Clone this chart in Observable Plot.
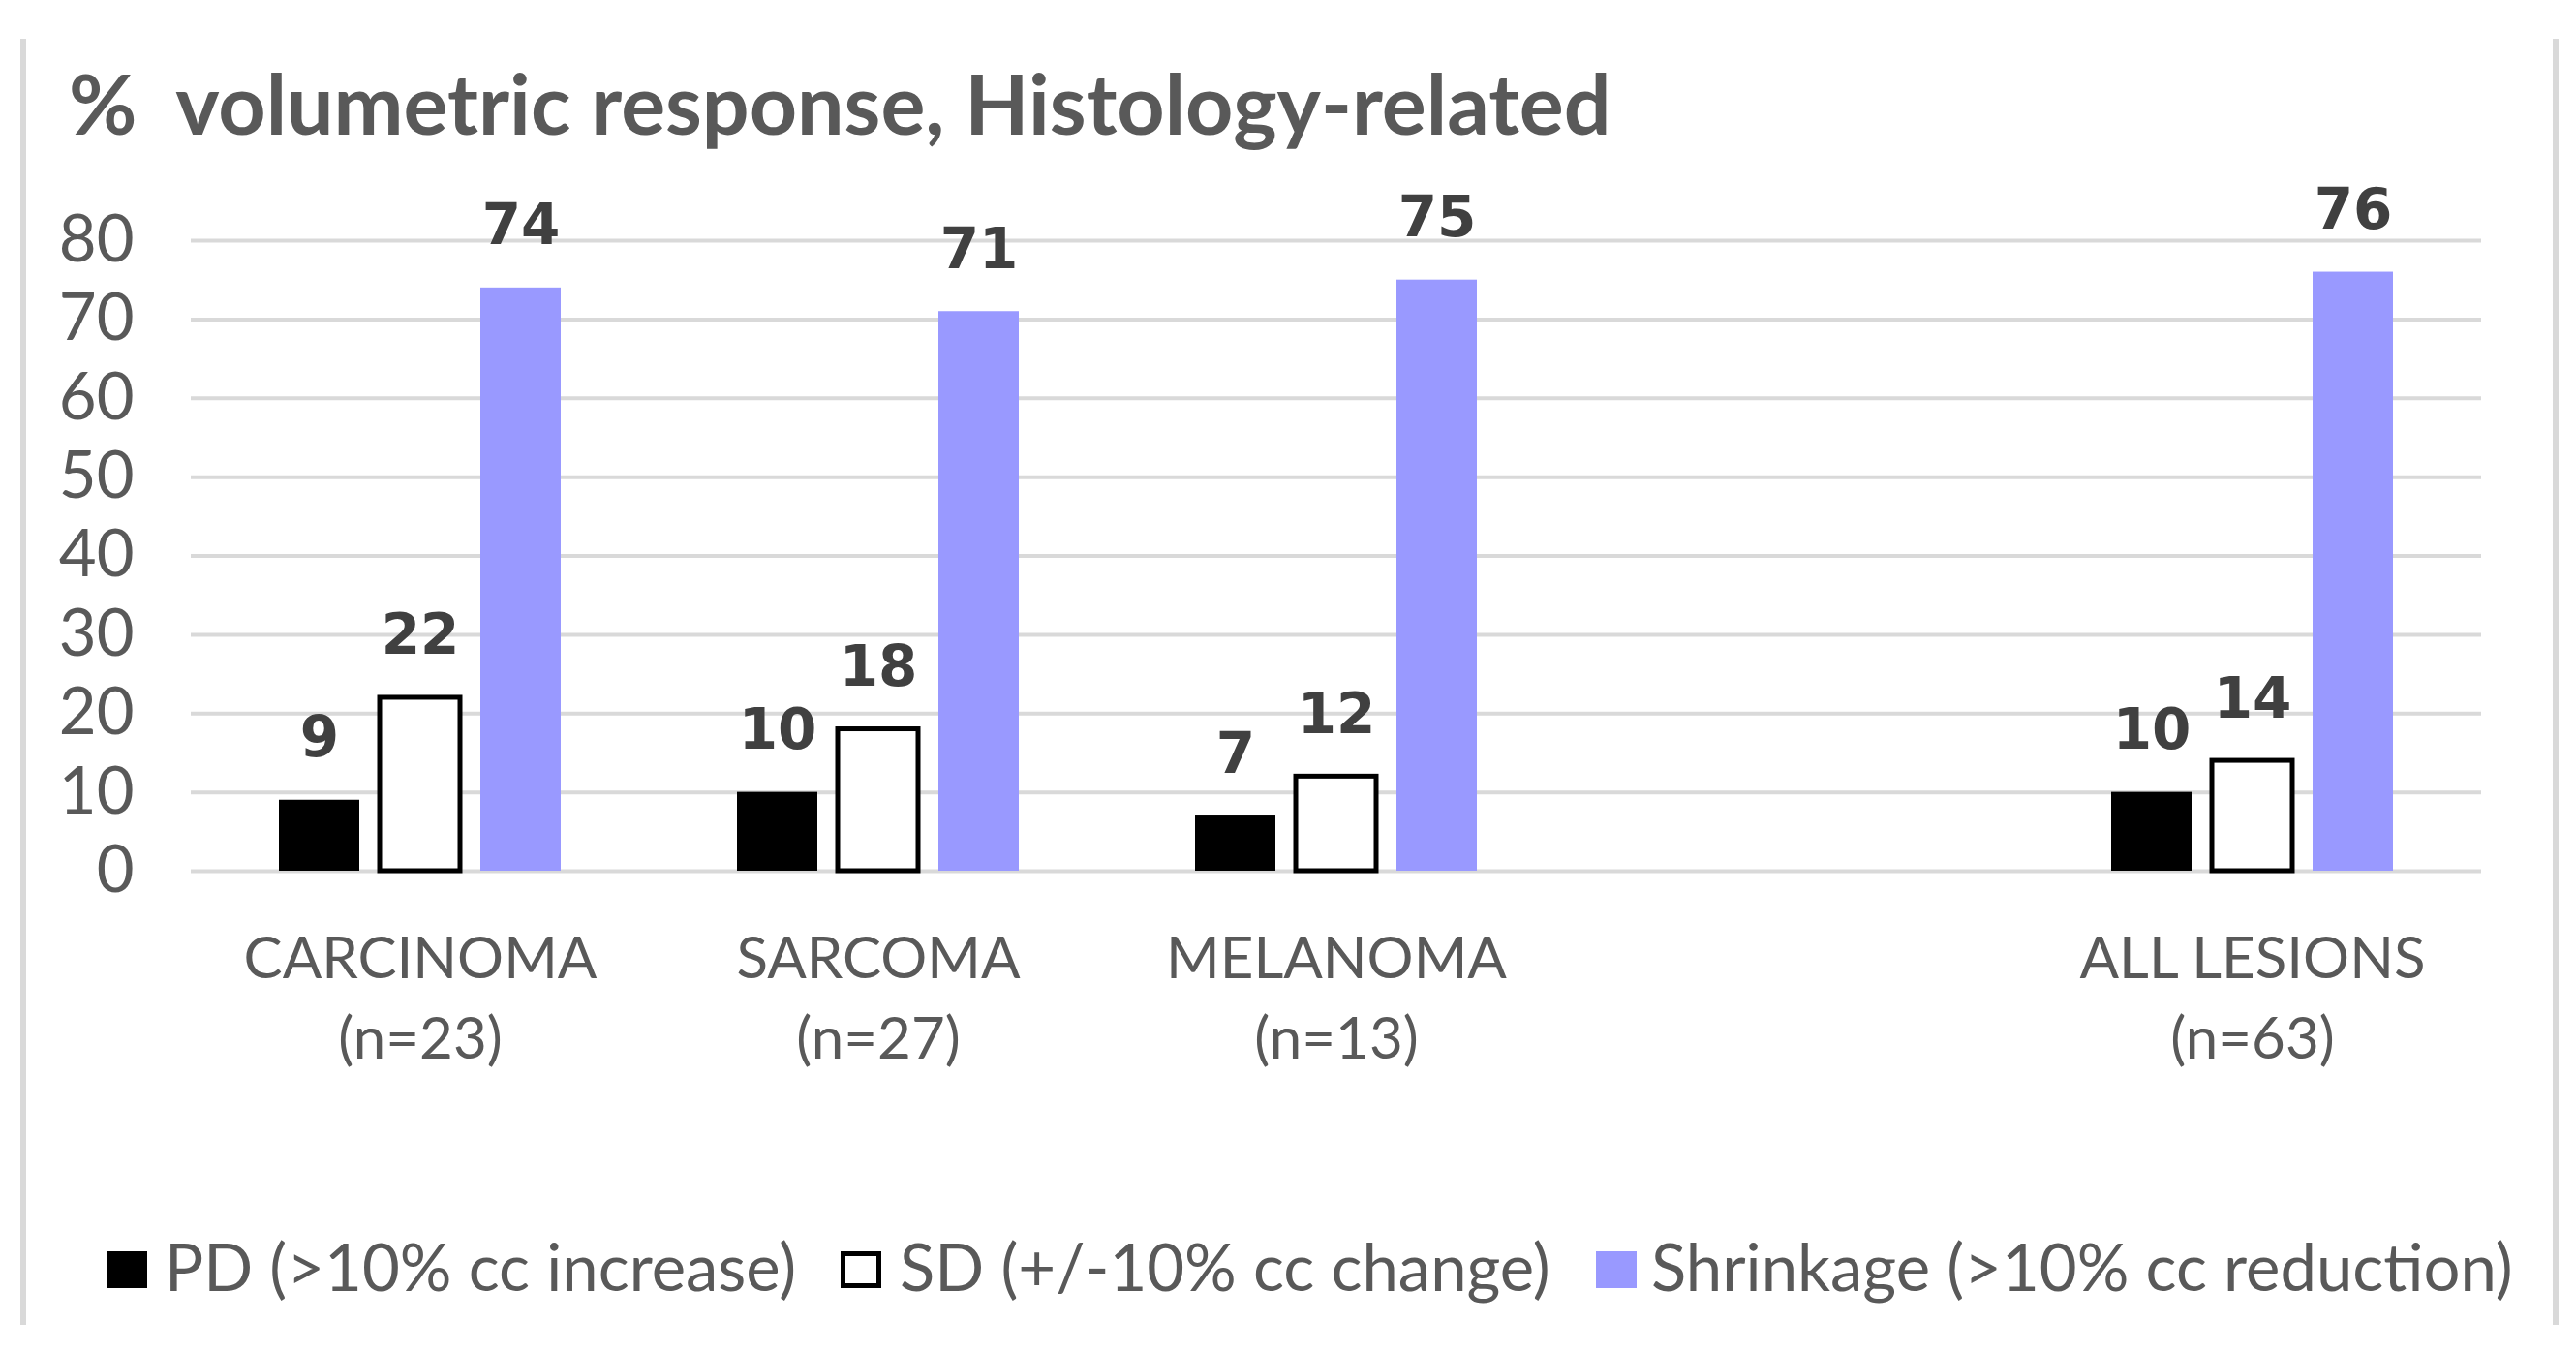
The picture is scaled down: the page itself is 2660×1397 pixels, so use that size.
<!DOCTYPE html>
<html>
<head>
<meta charset="utf-8">
<script src="https://cdn.jsdelivr.net/npm/d3@7"></script>
<script src="https://cdn.jsdelivr.net/npm/@observablehq/plot@0.6"></script>
<style>
  html, body { margin: 0; padding: 0; background: #fff; }
  #wrap { position: relative; width: 2660px; height: 1397px; overflow: hidden; background: #fff; font-family: Lato, "Open Sans", sans-serif; }
  .border { position: absolute; top: 40px; height: 1328px; width: 6px; background: #d9d9d9; }
  #title { position: absolute; left: 71px; top: 63px; font-size: 86px; line-height: 86px; font-weight: bold; color: #595959; white-space: nowrap; }
  #chart { position: absolute; left: 0; top: 160px; }
  .sw { position: absolute; top: 1292px; width: 42px; height: 38px; box-sizing: border-box; }
  .lt { position: absolute; top: 1274px; font-size: 67px; line-height: 67px; color: #595959; white-space: nowrap; }
</style>
</head>
<body>
<div id="wrap">
  <div class="border" style="left:21px"></div>
  <div class="border" style="left:2636px"></div>
  <div id="title">%&nbsp; volumetric response, Histology-related</div>
  <div id="chart"></div>
  <div id="legend"></div>
</div>
<script>
// ---- data ----
const groups = ["CARCINOMA", "SARCOMA", "MELANOMA", "ALL LESIONS"];
const groupN = ["(n=23)", "(n=27)", "(n=13)", "(n=63)"];
const slots = ["CARCINOMA", "SARCOMA", "MELANOMA", "", "ALL LESIONS"]; // "" = empty gap slot
const seriesNames = ["PD (>10% cc increase)", "SD (+/-10% cc change)", "Shrinkage (>10% cc reduction)"];
const pdValues = [9, 10, 7, 10];
const sdValues = [22, 18, 12, 14];
const shrinkValues = [74, 71, 75, 76];
const yTicks = [0, 10, 20, 30, 40, 50, 60, 70, 80];

// ---- styles ----
const seriesFill = ["#000000", "#ffffff", "#9999ff"];
const seriesStroke = [null, "#000000", null];

const valuesBySeries = [pdValues, sdValues, shrinkValues];
const rows = [];
groups.forEach((g, i) => seriesNames.forEach((s, j) => rows.push({group: g, series: s, value: valuesBySeries[j][i]})));
const gridRows = d3.cross(slots, yTicks).map(([slot, v]) => ({group: slot, v}));
const nByGroup = new Map(groups.map((g, i) => [g, groupN[i]]));

const plot = Plot.plot({
  width: 2660,
  height: 990,
  marginLeft: 195,
  marginRight: 96,
  marginTop: 88,
  marginBottom: 251,
  style: {fontFamily: "Lato, 'Open Sans', sans-serif", fontSize: "67px", color: "#595959", background: "transparent", overflow: "visible"},
  fx: {domain: slots, paddingInner: 0, paddingOuter: 0, axis: null},
  x: {domain: seriesNames, paddingInner: 0.2, paddingOuter: 0.87, axis: null},
  y: {domain: [0, 80], axis: null},
  color: {domain: seriesNames, range: seriesFill},
  marks: [
    Plot.ruleY(gridRows, {fx: "group", y: "v", stroke: "#d9d9d9", strokeWidth: 4}),
    Plot.axisY({ticks: yTicks, tickSize: 0, tickPadding: 59, label: null, fill: "#595959", fontSize: 67}),
    Plot.axisFx({anchor: "bottom", tickSize: 0, tickPadding: 52, label: null, lineHeight: 1.38, fill: "#595959", fontSize: 60, letterSpacing: "-1px",
      tickFormat: d => d ? `${d}\n${nByGroup.get(d)}` : ""}),
    Plot.barY(rows, {fx: "group", x: "series", y: "value", fill: "series"}),
    Plot.barY(rows.filter(d => seriesStroke[seriesNames.indexOf(d.series)]), {fx: "group", x: "series", y: "value", fill: "none", stroke: "#000", strokeWidth: 5}),
    Plot.text(rows, {fx: "group", x: "series", y: "value", text: d => String(d.value), lineAnchor: "bottom", dy: -45,
      fontFamily: "DejaVu Sans", fontWeight: "bold", fontSize: 58, fill: "#404040"})
  ]
});
document.getElementById("chart").appendChild(plot);

// ---- legend (HTML) ----
const legend = document.getElementById("legend");
const swLeft = [110, 868, 1648];
const txtLeft = [170, 929, 1705];
seriesNames.forEach((s, j) => {
  const sw = document.createElement("div");
  sw.className = "sw";
  sw.style.left = swLeft[j] + "px";
  sw.style.background = seriesFill[j];
  if (seriesStroke[j]) sw.style.border = `5px solid ${seriesStroke[j]}`;
  legend.appendChild(sw);
  const t = document.createElement("div");
  t.className = "lt";
  t.style.left = txtLeft[j] + "px";
  t.textContent = s;
  legend.appendChild(t);
});
</script>
</body>
</html>
